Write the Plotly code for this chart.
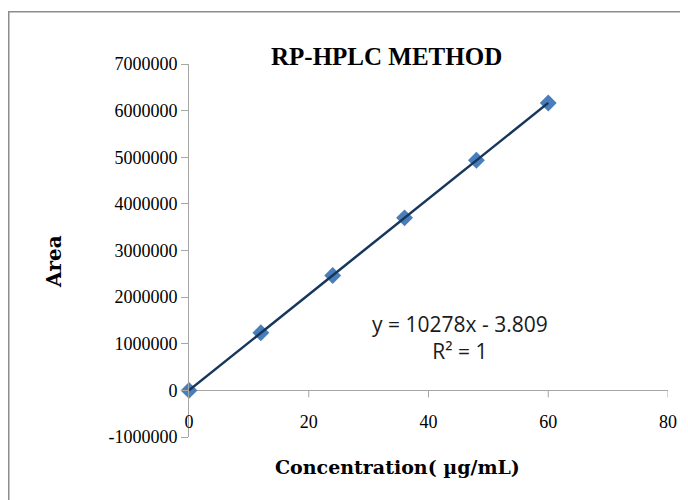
import numpy as np
import plotly.graph_objects as go

# Data
concentration = [0, 12, 24, 36, 48, 60]
area = [0, 1235000, 2465000, 3700000, 4935000, 6165000]
x_ticks = [0, 20, 40, 60, 80]
y_ticks = [-1000000, 0, 1000000, 2000000, 3000000, 4000000, 5000000, 6000000, 7000000]
title_text = "RP-HPLC METHOD"
x_title = "Concentration( µg/mL)"
y_title = "Area"
equation_text = "y = 10278x - 3.809<br>R² = 1"

# Linear trendline from data
slope, intercept = np.polyfit(concentration, area, 1)
trend_x = [min(concentration), max(concentration)]
trend_y = [slope * v + intercept for v in trend_x]

OFF = 8  # page body margin
W, H = 680, 492
L, R, T, B = 181, 20, 56, 63
pw, ph = W - L - R, H - T - B


def px(xw):
    return (xw - OFF - L) / pw


def py(yw):
    return 1 - (yw - OFF - T) / ph


serif = "Liberation Serif, Times New Roman, serif"
wide_serif = "DejaVu Serif, serif"
axis_gray = "#A6A6A6"

fig = go.Figure()
fig.add_trace(go.Scatter(
    x=concentration, y=area, mode="markers",
    marker=dict(symbol="diamond", size=13, color="#4A7EBB"),
    showlegend=False, cliponaxis=False,
))
fig.add_trace(go.Scatter(
    x=trend_x, y=trend_y, mode="lines",
    line=dict(color="#17365D", width=2.5),
    showlegend=False,
))

shapes = []
# small downward ticks on the horizontal axis crossing at y=0
for t in x_ticks[1:]:
    shapes.append(dict(type="line", xref="x", yref="y", ysizemode="pixel",
                       yanchor=0, x0=t, x1=t, y0=-7, y1=0,
                       line=dict(color=axis_gray, width=1)))
# chart border
shapes.append(dict(type="rect", xref="paper", yref="paper",
                   x0=px(8.75), x1=px(700), y0=py(510), y1=py(11.75),
                   line=dict(color="#8C8C8C", width=1.5), fillcolor="rgba(0,0,0,0)"))

fig.update_layout(
    width=W, height=H,
    margin=dict(l=L, r=R, t=T, b=B),
    paper_bgcolor="white", plot_bgcolor="white",
    showlegend=False,
    shapes=shapes,
    annotations=[
        dict(text="<b>" + title_text + "</b>", xref="paper", yref="paper",
             x=px(386), y=py(57), showarrow=False,
             font=dict(family=serif, size=25, color="black"),
             xanchor="center", yanchor="middle"),
        dict(text="<b>" + x_title + "</b>", xref="paper", yref="paper",
             x=px(397), y=py(467), showarrow=False,
             font=dict(family=wide_serif, size=19, color="black"),
             xanchor="center", yanchor="middle"),
        dict(text="<b>" + y_title + "</b>", xref="paper", yref="paper",
             x=px(54), y=py(262), showarrow=False, textangle=-90,
             font=dict(family=wide_serif, size=20, color="black"),
             xanchor="center", yanchor="middle"),
        dict(text=equation_text, xref="paper", yref="paper",
             x=px(460), y=py(337), showarrow=False,
             font=dict(family="Open Sans, Liberation Sans, sans-serif", size=21, color="#1a1a1a"),
             xanchor="center", yanchor="middle", align="center"),
    ],
    xaxis=dict(range=[0, 80], tickvals=x_ticks, ticktext=[str(v) for v in x_ticks],
               showgrid=False, zeroline=False, showline=False, ticks="",
               anchor="free", position=0.074,
               tickfont=dict(family=serif, size=18, color="black")),
    yaxis=dict(range=[-1000000, 7000000], tickvals=y_ticks, domain=[0, 1],
               ticktext=[str(v) for v in y_ticks],
               showgrid=False, zeroline=True, zerolinecolor=axis_gray, zerolinewidth=1,
               showline=True, linecolor=axis_gray, linewidth=1,
               ticks="outside", ticklen=7, tickcolor=axis_gray, tickwidth=1,
               tickfont=dict(family=serif, size=18, color="black")),
)

fig.write_html("out.html")
